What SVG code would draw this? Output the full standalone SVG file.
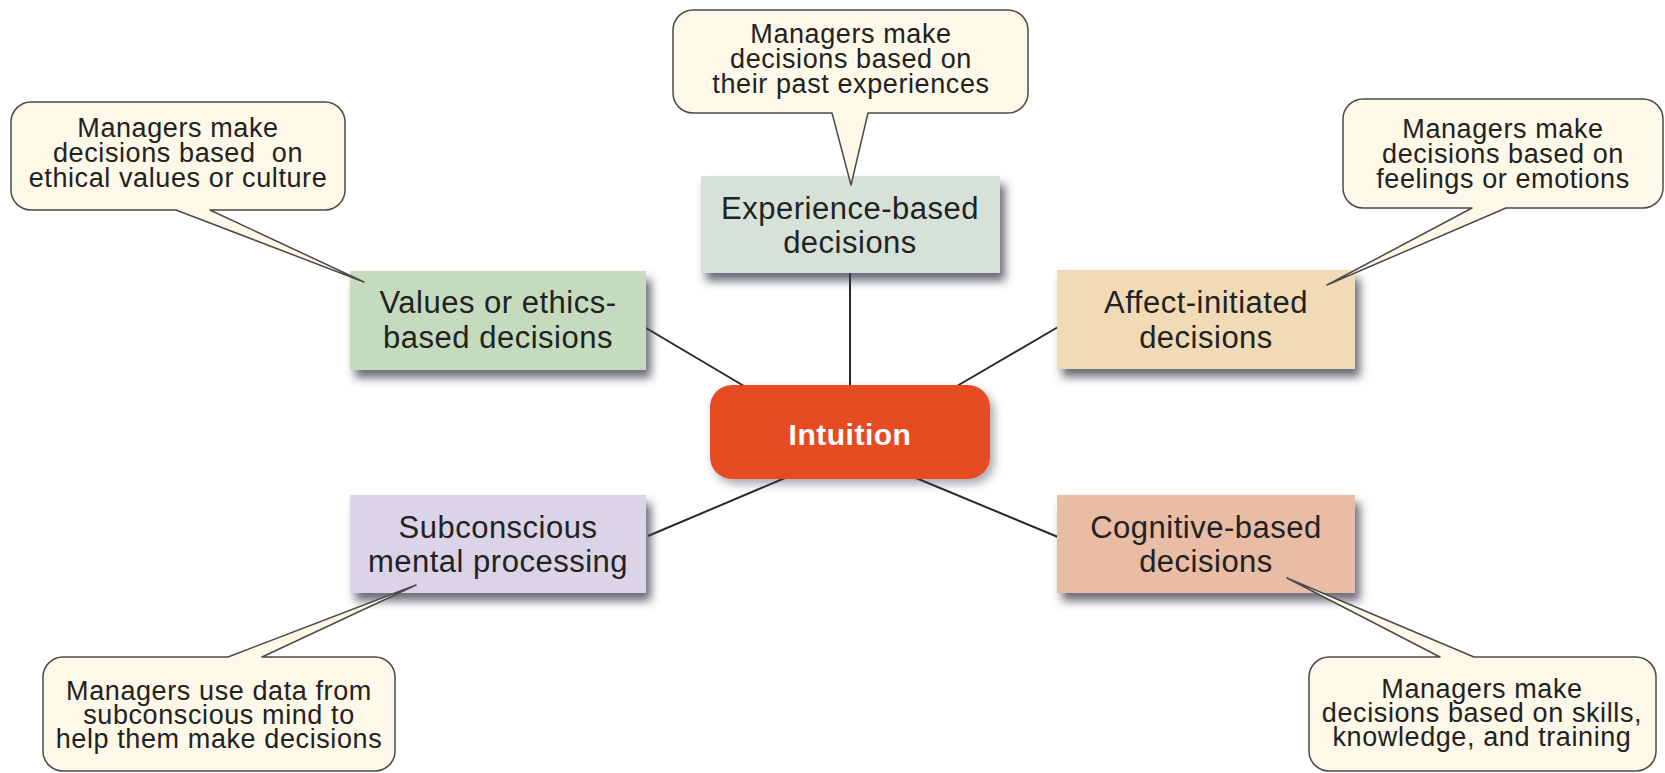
<svg xmlns="http://www.w3.org/2000/svg" width="1665" height="773" viewBox="0 0 1665 773">
<defs>
<filter id="sh" x="-10%" y="-20%" width="130%" height="150%">
<feDropShadow dx="5" dy="8" stdDeviation="5" flood-color="#3a3a4a" flood-opacity="0.75"/>
</filter>
<filter id="sh2" x="-10%" y="-20%" width="130%" height="150%">
<feDropShadow dx="4" dy="5" stdDeviation="5" flood-color="#3a3a4a" flood-opacity="0.45"/>
</filter>
<style>
.box{stroke:none;filter:url(#sh)}
.lbl{font-family:"Liberation Sans",Arial,sans-serif;font-size:31px;fill:#222;text-anchor:middle;letter-spacing:0.5px}
.call{fill:#fdf8e7;stroke:#4a4a4a;stroke-width:1.5;stroke-linejoin:round}
.ct{font-family:"Liberation Sans",Arial,sans-serif;font-size:27px;fill:#222;text-anchor:middle;letter-spacing:0.6px}
.con{stroke:#2a2a2a;stroke-width:2;fill:none}
</style>
</defs>
<rect width="1665" height="773" fill="#ffffff"/>

<g id="connectors">
<line class="con" x1="850" y1="273" x2="850" y2="386"/>
<line class="con" x1="850" y1="273" x2="850" y2="310" stroke-width="3.5"/>
<line class="con" x1="646" y1="328" x2="744" y2="386"/>
<line class="con" x1="1058" y1="327" x2="957" y2="386"/>
<line class="con" x1="648" y1="536" x2="785" y2="478"/>
<line class="con" x1="916" y1="478" x2="1058" y2="537"/>
</g>

<g id="node-intuition">
<rect x="710" y="385" width="280" height="94" rx="22" fill="#e64c24" filter="url(#sh2)"/>
<text x="850" y="445" font-family="'Liberation Sans',Arial,sans-serif" font-size="30" font-weight="bold" fill="#ffffff" text-anchor="middle" letter-spacing="0.5">Intuition</text>
</g>

<g id="node-values">
<rect class="box" x="350" y="271" width="296" height="99" fill="#c4dcbd"/>
<text class="lbl" x="498" y="313">Values or ethics-</text>
<text class="lbl" x="498" y="348">based decisions</text>
</g>

<g id="node-experience">
<rect class="box" x="701" y="176" width="299" height="97" fill="#d6e2d8"/>
<text class="lbl" x="850" y="219">Experience-based</text>
<text class="lbl" x="850" y="253">decisions</text>
</g>

<g id="node-affect">
<rect class="box" x="1057" y="270" width="298" height="99" fill="#f0dbb6"/>
<text class="lbl" x="1206" y="313">Affect-initiated</text>
<text class="lbl" x="1206" y="348">decisions</text>
</g>

<g id="node-subconscious">
<rect class="box" x="350" y="495" width="296" height="98" fill="#dbd3e8"/>
<text class="lbl" x="498" y="538">Subconscious</text>
<text class="lbl" x="498" y="572">mental processing</text>
</g>

<g id="node-cognitive">
<rect class="box" x="1057" y="495" width="298" height="98" fill="#e8bca5"/>
<text class="lbl" x="1206" y="538">Cognitive-based</text>
<text class="lbl" x="1206" y="572">decisions</text>
</g>

<g id="callout-values">
<path class="call" d="M31,102 H325 A20,20 0 0 1 345,122 V190 A20,20 0 0 1 325,210 H210 L364,282 L176,210 H31 A20,20 0 0 1 11,190 V122 A20,20 0 0 1 31,102 Z"/>
<text class="ct" x="178" y="137">Managers make</text>
<text class="ct" x="178" y="162">decisions based&#160; on</text>
<text class="ct" x="178" y="187">ethical values or culture</text>
</g>

<g id="callout-experience">
<path class="call" d="M693,10 H1008 A20,20 0 0 1 1028,30 V93 A20,20 0 0 1 1008,113 H868 L851,185 L832,113 H693 A20,20 0 0 1 673,93 V30 A20,20 0 0 1 693,10 Z"/>
<text class="ct" x="851" y="43">Managers make</text>
<text class="ct" x="851" y="68">decisions based on</text>
<text class="ct" x="851" y="93">their past experiences</text>
</g>

<g id="callout-affect">
<path class="call" d="M1363,99 H1643 A20,20 0 0 1 1663,119 V188 A20,20 0 0 1 1643,208 H1506 L1327,285 L1472,208 H1363 A20,20 0 0 1 1343,188 V119 A20,20 0 0 1 1363,99 Z"/>
<text class="ct" x="1503" y="138">Managers make</text>
<text class="ct" x="1503" y="163">decisions based on</text>
<text class="ct" x="1503" y="188">feelings or emotions</text>
</g>

<g id="callout-subconscious">
<path class="call" d="M63,657 H228 L416,585 L262,657 H375 A20,20 0 0 1 395,677 V751 A20,20 0 0 1 375,771 H63 A20,20 0 0 1 43,751 V677 A20,20 0 0 1 63,657 Z"/>
<text class="ct" x="219" y="700">Managers use data from</text>
<text class="ct" x="219" y="724">subconscious mind to</text>
<text class="ct" x="219" y="748">help them make decisions</text>
</g>

<g id="callout-cognitive">
<path class="call" d="M1329,657 H1440 L1287,578 L1474,657 H1636 A20,20 0 0 1 1656,677 V751 A20,20 0 0 1 1636,771 H1329 A20,20 0 0 1 1309,751 V677 A20,20 0 0 1 1329,657 Z"/>
<text class="ct" x="1482" y="698">Managers make</text>
<text class="ct" x="1482" y="722">decisions based on skills,</text>
<text class="ct" x="1482" y="746">knowledge, and training</text>
</g>
</svg>
